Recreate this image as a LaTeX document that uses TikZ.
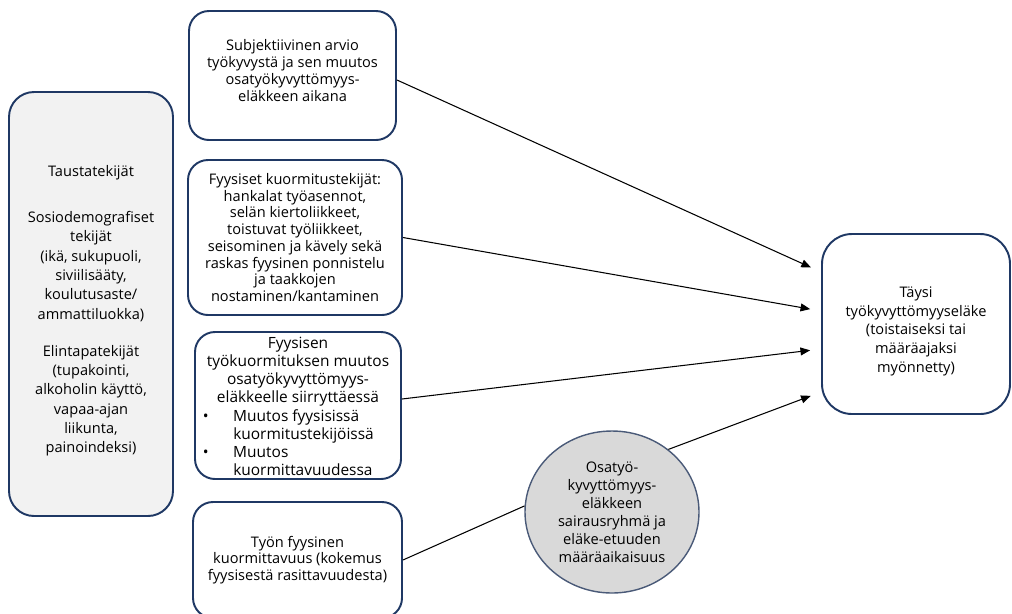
\documentclass[tikz,border=0pt]{standalone}
\usepackage{fontspec}
\setmainfont{Open Sans}
\usetikzlibrary{arrows.meta,shapes.geometric}
\definecolor{boxline}{HTML}{1F3864}
\definecolor{leftfill}{HTML}{F2F2F2}
\definecolor{ovalfill}{HTML}{D9D9D9}
\definecolor{ovalline}{HTML}{4A5A78}

\begin{document}
\begin{tikzpicture}[
        factor/.style={draw=boxline, line width=1.1pt, rounded corners=0.4cm, align=center, inner sep=0pt},
        link/.style={-{Triangle[length=5.5pt,width=4.5pt]}, line width=0.6pt, shorten >=0.22cm}
    ]
        \useasboundingbox (0,0) rectangle (20.24,-12.26);

        % Nodes
        \node[factor, fill=leftfill, minimum width=3.28cm, minimum height=8.48cm, rounded corners=0.5cm,
              font=\fontsize{8.3}{11}\selectfont] (Bg) at (1.82,-6.08)
            {\rule{0pt}{14.3pt}Taustatekijät\\[15pt]
             Sosiodemografiset\\tekijät\\(ikä, sukupuoli,\\siviilisääty,\\koulutusaste/\\ammattiluokka)\\[10pt]
             Elintapatekijät\\(tupakointi,\\alkoholin käyttö,\\vapaa-ajan\\liikunta,\\painoindeksi)};
        \node[factor, minimum width=4.14cm, minimum height=2.58cm, font=\fontsize{8.3}{9.7}\selectfont] (Subj) at (5.85,-1.51)
            {Subjektiivinen arvio\\työkyvystä ja sen muutos\\osatyökyvyttömyys-\\eläkkeen aikana\rule[-5.7pt]{0pt}{5.7pt}};
        \node[factor, minimum width=4.28cm, minimum height=3.10cm, font=\fontsize{8.3}{9.5}\selectfont] (Load) at (5.90,-4.75)
            {Fyysiset kuormitustekijät:\\hankalat työasennot,\\selän kiertoliikkeet,\\toistuvat työliikkeet,\\seisominen ja kävely sekä\\raskas fyysinen ponnistelu\\ja taakkojen\\nostaminen/kantaminen};
        \node[factor, minimum width=4.12cm, minimum height=2.94cm] (Change) at (5.96,-8.11) {};
        \node[align=center, inner sep=0pt, font=\fontsize{8.8}{10.3}\selectfont] (ChangeText) at ([yshift=-0.07cm]Change.center)
            {Fyysisen\\työkuormituksen muutos\\osatyökyvyttömyys-\\eläkkeelle siirryttäessä\\
             \begin{tabular}{@{}l@{\hspace{14pt}}l@{}}
                 • & Muutos fyysisissä\\ & kuormitustekijöissä\\
                 • & Muutos\\ & kuormittavuudessa
             \end{tabular}\hspace*{11pt}};
        \node[factor, minimum width=4.18cm, minimum height=2.32cm, font=\fontsize{8.3}{9.5}\selectfont] (Strain) at (5.95,-11.20)
            {Työn fyysinen\\kuormittavuus (kokemus\\fyysisestä rasittavuudesta)};
        \node[factor, minimum width=3.76cm, minimum height=3.60cm, rounded corners=0.6cm, font=\fontsize{8.3}{10.6}\selectfont] (Pension) at (18.32,-6.48)
            {\rule{0pt}{14.3pt}Täysi\\työkyvyttömyyseläke\\(toistaiseksi tai\\määräajaksi\\myönnetty)};
        \node[ellipse, draw=ovalline, fill=ovalfill, line width=0.8pt, minimum width=3.48cm, minimum height=3.24cm,
              inner sep=0pt, align=center, font=\fontsize{8.3}{10.2}\selectfont] (Group) at (12.24,-10.24)
            {Osatyö-\\kyvyttömyys-\\eläkkeen\\sairausryhmä ja\\eläke-etuuden\\määräaikaisuus};

        % Edges
        \draw[link] ([yshift=-0.09cm]Subj.east) -- ([yshift=1.04cm]Pension.west);
        \draw[link] (Load.east) -- ([yshift=0.26cm]Pension.west);
        \draw[link] ([yshift=0.13cm]Change.east) -- ([yshift=-0.50cm]Pension.west);
        \draw[line width=0.6pt] (Strain.east) -- (Group.176);
        \draw[link] (Group.48) -- ([yshift=-1.36cm]Pension.west);
    \end{tikzpicture}
\end{document}
